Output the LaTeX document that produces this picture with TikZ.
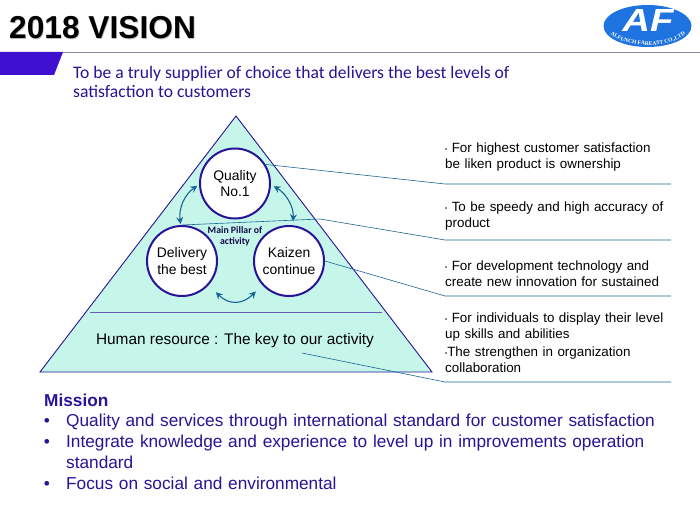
\documentclass[tikz,border=0pt]{standalone}
\usepackage{tikz}
\usepackage{xcolor}
\usepackage{fontspec}
\setmainfont{Liberation Sans}
\newfontfamily\bodyfont{Carlito}
\newfontfamily\logofont{Liberation Serif}
\usetikzlibrary{arrows.meta, decorations.text, shapes.geometric}
\definecolor{inkColor}{RGB}{40, 20, 150}
\definecolor{bannerColor}{RGB}{64, 16, 208}
\definecolor{pyramidColor}{RGB}{198, 245, 234}
\definecolor{leaderColor}{RGB}{25, 100, 150}
\definecolor{logoColor}{RGB}{30, 115, 225}
\definecolor{ruleColor}{RGB}{140, 135, 165}
\newcommand{\notedot}{\raisebox{1.5pt}{\fontsize{6}{6}\selectfont\textbullet}}
\tikzset{
    pillar/.style={circle, draw=inkColor, line width=2pt, fill=white, minimum size=70pt, inner sep=0pt, align=center, font=\fontsize{13.9}{16.5}\selectfont},
    link/.style={{Stealth[length=7pt, width=7pt, inset=2.5pt]}-{Stealth[length=7pt, width=7pt, inset=2.5pt]}, leaderColor, line width=1.1pt},
    leader/.style={leaderColor, line width=0.6pt},
    note/.style={anchor=north west, inner sep=0pt, align=left, text width=240pt, font=\fontsize{13.4}{16}\selectfont},
    missiontext/.style={inner sep=0pt, text=inkColor, font=\fontsize{17.25}{21}\selectfont},
}

\begin{document}
\begin{tikzpicture}[x=1pt, y=-1pt]
    \useasboundingbox (0,0) rectangle (700,524);
    \fill[white] (0,0) rectangle (700,524);

    % Header
    \node[anchor=west, inner sep=0pt, text=black!25, font=\fontsize{31.7}{32}\selectfont\bfseries] at (9.7,28.7) {2018 VISION};
    \node[anchor=west, inner sep=0pt, font=\fontsize{31.7}{32}\selectfont\bfseries] (title) at (9,28) {2018 VISION};
    \draw[ruleColor, line width=0.7pt] (0,52) -- (700,52);
    \fill[bannerColor] (0,52) -- (63,52) -- (54,75) -- (0,75) -- cycle;
    \node[anchor=north west, inner sep=0pt, align=left, text=inkColor, font=\bodyfont\fontsize{17.6}{19.5}\selectfont] (goal) at (73,66) {To be a truly supplier of choice that delivers the best levels of\\satisfaction to customers};

    % Logo
    \node[ellipse, fill=logoColor, minimum width=88pt, minimum height=42pt, inner sep=0pt] (logo) at (647.5,26) {};
    \node[text=white, inner sep=0pt, font=\fontsize{32}{32}\selectfont\bfseries\itshape] (logotext) at (648,20.5) {\scalebox{1.2}[1]{AF}};
    \path[postaction={decorate, decoration={text along path, text align=center, text={|\logofont\bfseries\fontsize{5.6}{6}\selectfont\color{white}|ALFUNCH FAREAST CO.,LTD}}}] (606,31) .. controls (626,50) and (670,50) .. (690,31);

    % Pyramid with its divider
    \coordinate (top) at (236,116);
    \coordinate (left) at (40,372);
    \coordinate (right) at (432,372);
    \draw[fill=pyramidColor, draw=inkColor, line width=0.9pt] (top) -- (left) -- (right) -- cycle;
    \coordinate (divA) at (90,312);
    \coordinate (divB) at (382,312);
    \draw[inkColor!70, line width=0.9pt] (divA) -- (divB);
    \node[inner sep=0pt, font=\fontsize{15.4}{17}\selectfont] (human) at (235,341) {Human resource : The key to our activity};

    % Leaders run to these rails
    \coordinate (endA) at (445,184);
    \coordinate (endB) at (445,240);
    \coordinate (endC) at (445,296);
    \coordinate (endD) at (445,382);
    \coordinate (railA) at (671,184);
    \coordinate (railB) at (671,240);
    \coordinate (railC) at (671,296);
    \coordinate (railD) at (671,382);
    \coordinate (bend) at (320,219);
    \coordinate (startD) at (302,353);

    % Three pillars
    \node[pillar] (quality) at (235,183.5) {Quality\\No.1};
    \node[pillar] (delivery) at (182,261) {\raisebox{-3pt}{Delivery}\\\raisebox{-3pt}{the best}};
    \node[pillar] (kaizen) at (289,261) {\raisebox{-2pt}{Kaizen}\\\raisebox{-2pt}{continue}};
    \node[inner sep=0pt, align=center, text=inkColor!50!black, font=\bodyfont\bfseries\fontsize{9.8}{11}\selectfont] (pillarnote) at (235,236) {Main Pillar of\\activity};

    \draw[leader] (quality.32) -- (endA) -- (railA);
    \draw[leader] (delivery.90) -- (bend) -- (endB) -- (railB);
    \draw[leader] (kaizen.0) -- (endC) -- (railC);
    \draw[leader] (startD) -- (endD) -- (railD);

    % Arrows between the pillars
    \draw[link, shorten <=2pt, shorten >=1pt] (quality.182) to[bend right=32] (delivery.92);
    \draw[link, shorten <=3pt, shorten >=4pt] (quality.-2) to[bend left=32] (kaizen.84);
    \draw[link, shorten <=10pt, shorten >=9pt] (delivery.-42) to[bend right=45, looseness=1.35] (kaizen.222);

    % Notes on the right
    \node[note] (noteA) at (445,143) {\notedot\ For highest customer satisfaction\\be liken product is ownership};
    \node[note] (noteB) at (445,202) {\notedot\ To be speedy and high accuracy of\\product};
    \node[note] (noteC) at (445,261) {\notedot\ For development technology and\\create new innovation for sustained};
    \node[note] (noteD) at (445,313) {\notedot\ For individuals to display their level\\up skills and abilities};
    \node[note] (noteE) at (445,347) {\notedot The strengthen in organization\\collaboration};

    % Mission block
    \node[missiontext, anchor=north west, font=\fontsize{17.25}{21}\selectfont\bfseries] (mission) at (44,393.5) {Mission};
    \node[missiontext, anchor=north west, align=left, text width=600pt] (items) at (66,414) {Quality and services through international standard for customer satisfaction\\Integrate knowledge and experience to level up in improvements operation\\standard\\Focus on social and environmental};
    \node[missiontext] (dotA) at (47,422) {•};
    \node[missiontext] (dotB) at (47,443) {•};
    \node[missiontext] (dotC) at (47,485) {•};
\end{tikzpicture}
\end{document}
